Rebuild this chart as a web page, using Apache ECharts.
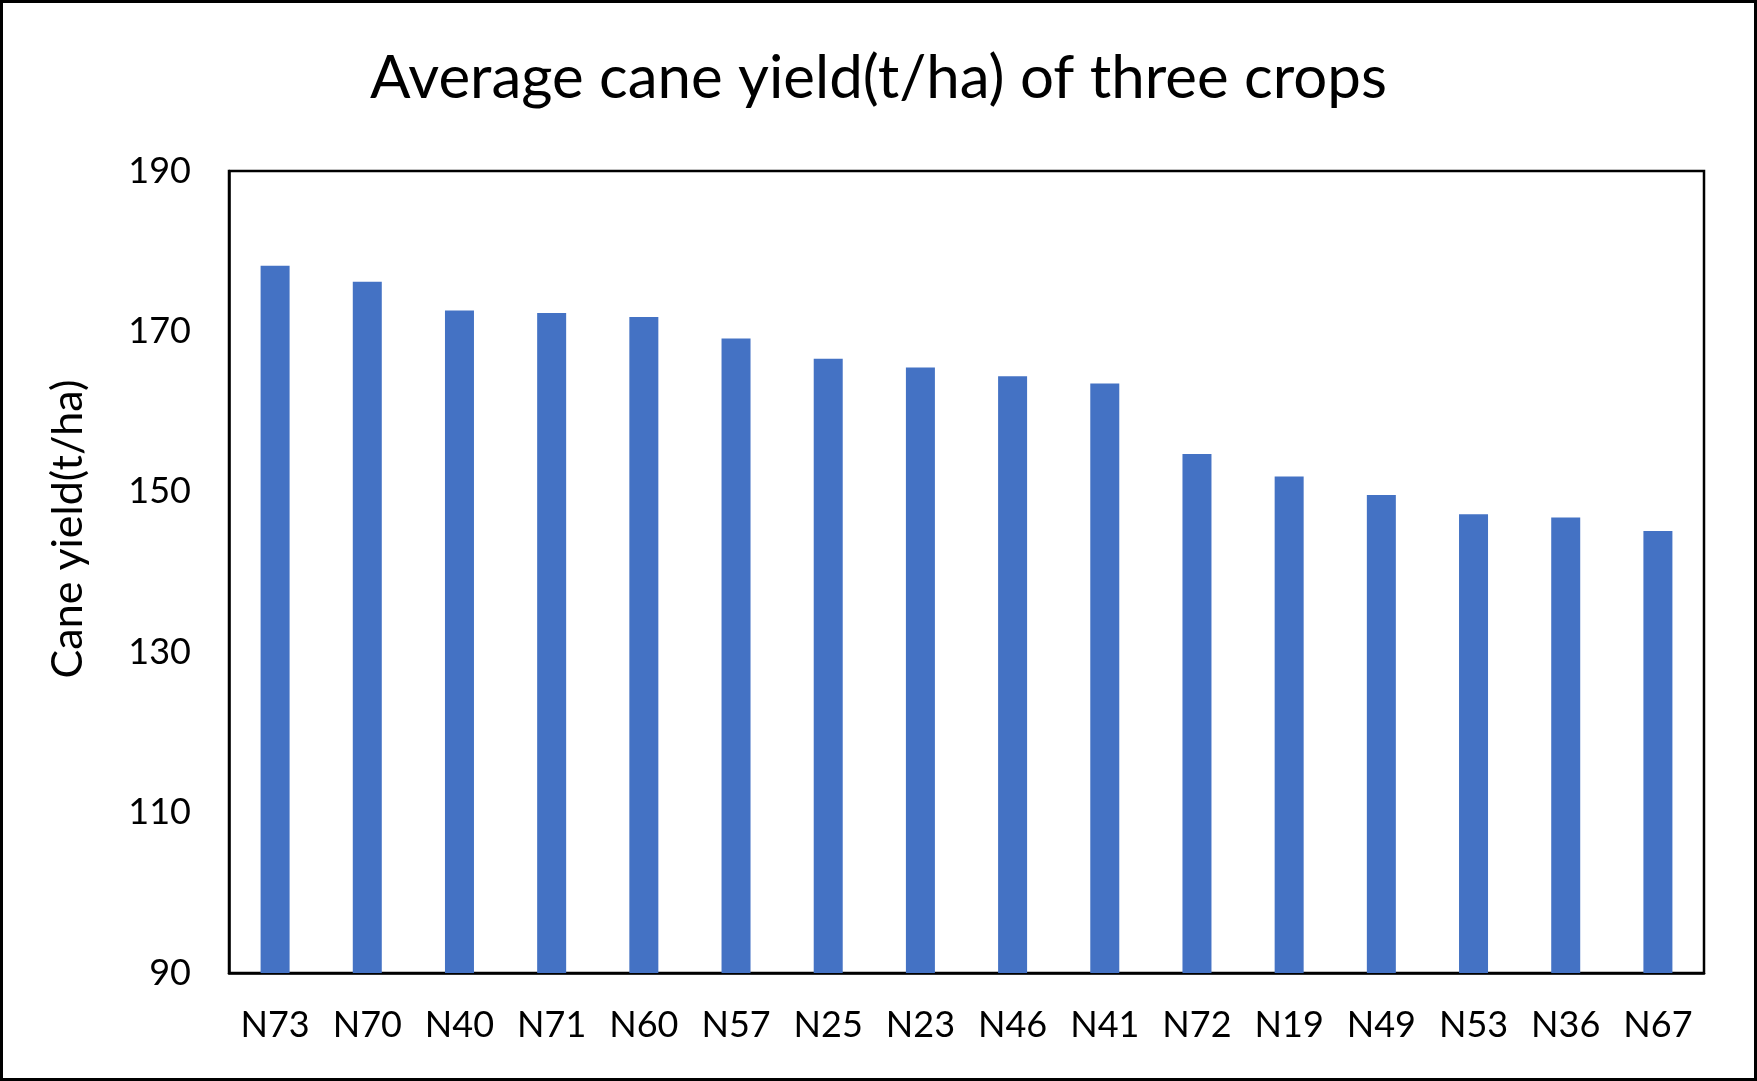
<!DOCTYPE html>
<html lang="en">
<head>
  <meta charset="UTF-8">
  <title>Average cane yield</title>
  <style>
    * { margin: 0; padding: 0; }
    html, body { height: 100%; background: #fff; }
    #chart { width: 1757px; height: 1081px; }
  </style>
</head>
<body>
  <div id="chart"></div>
  <script src="https://cdn.jsdelivr.net/npm/echarts@6/dist/echarts.min.js"></script>
  <script>
    // data
    const varieties = ['N73', 'N70', 'N40', 'N71', 'N60', 'N57', 'N25', 'N23',
                       'N46', 'N41', 'N72', 'N19', 'N49', 'N53', 'N36', 'N67'];
    const caneYield = [178.2, 176.2, 172.6, 172.3, 171.8, 169.1, 166.6, 165.5,
                       164.4, 163.5, 154.7, 151.9, 149.6, 147.2, 146.8, 145.1];
    const yTicks = { min: 90, max: 190, step: 20 };

    const font = 'Lato';
    const chart = echarts.init(document.getElementById('chart'), null, { renderer: 'canvas' });

    chart.setOption({
      animation: false,
      backgroundColor: '#fff',
      title: {
        text: 'Average cane yield(t/ha) of three crops',
        left: 'center',
        top: 44,
        textStyle: { fontFamily: font, fontSize: 60, fontWeight: 'normal', color: '#000' }
      },
      graphic: [{
        type: 'rect',
        shape: { x: 1.5, y: 1.5, width: 1754, height: 1078 },
        style: { fill: null, stroke: '#000', lineWidth: 3 },
        silent: true
      }],
      grid: {
        left: 229, right: 53, top: 171, bottom: 108,
        show: true, borderColor: '#000', borderWidth: 2.5,
        containLabel: false
      },
      xAxis: {
        type: 'category',
        data: varieties,
        axisLine: { show: true, lineStyle: { color: '#000', width: 2.5 } },
        axisTick: { show: false },
        axisLabel: { fontFamily: font, fontSize: 36, color: '#000', margin: 34 }
      },
      yAxis: {
        type: 'value',
        min: yTicks.min,
        max: yTicks.max,
        interval: yTicks.step,
        name: 'Cane yield(t/ha)',
        nameLocation: 'middle',
        nameGap: 139,
        nameTextStyle: { fontFamily: font, fontSize: 43, color: '#000', padding: [0, 0, 0, 86] },
        axisLine: { show: true, lineStyle: { color: '#000', width: 2.5 } },
        axisTick: { show: false },
        splitLine: { show: false },
        axisLabel: { fontFamily: font, fontSize: 36, color: '#000', margin: 38 }
      },
      series: [{
        type: 'bar',
        data: caneYield,
        barWidth: 29,
        itemStyle: { color: '#4472C4' }
      }]
    });
  </script>
</body>
</html>
